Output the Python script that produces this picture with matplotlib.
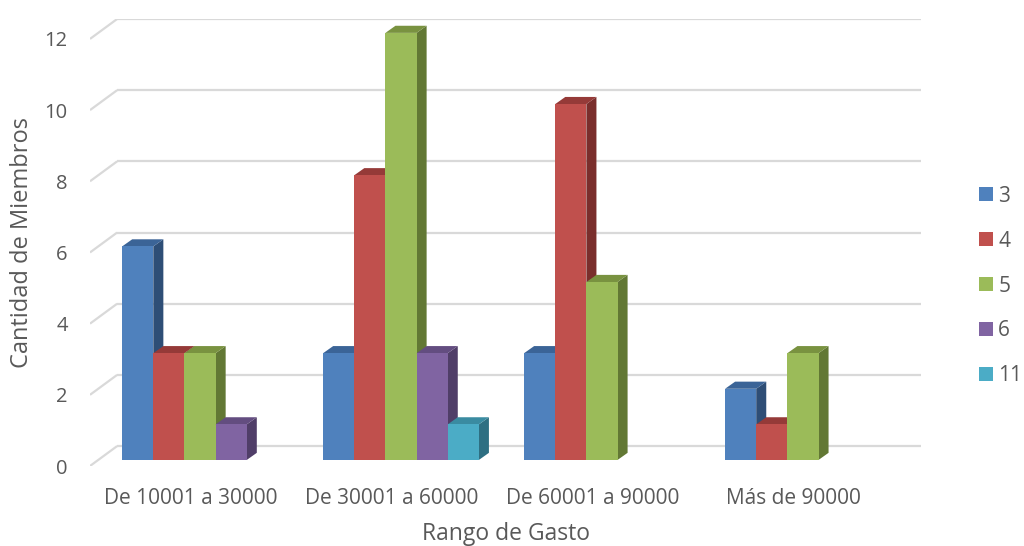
import matplotlib
matplotlib.use("Agg")
import matplotlib.pyplot as plt
from matplotlib.patches import Polygon, Patch

plt.rcParams['font.family'] = ['Open Sans', 'DejaVu Sans']

# datos: cantidad de miembros por rango de gasto
rangos = ["De 10001 a 30000", "De 30001 a 60000", "De 60001 a 90000", "Más de 90000"]
series = ["3", "4", "5", "6", "11"]
s3 = [6, 3, 3, 2]
s4 = [3, 8, 10, 1]
s5 = [3, 12, 5, 3]
s6 = [1, 3, 0, 0]
s11 = [0, 1, 0, 0]
valores = [s3, s4, s5, s6, s11]

frentes = ["#4F81BD", "#C0504D", "#9BBB59", "#8064A2", "#4BACC6"]
techos = ["#3B6497", "#953A38", "#799240", "#634D80", "#3A8BA1"]
lados = ["#2E4E76", "#7A2E2C", "#627834", "#503E68", "#2E6F82"]
gris = "#595959"
rejilla = "#D9D9D9"

# profundidad de la pared del fondo y de las barras (unidades de datos)
fondo_dx, fondo_dy = 0.135, 0.56
barra_dx0, barra_dy0 = 0.04, 0.17
barra_dx, barra_dy = 0.05, 0.2
ancho = 0.155
inicio = 0.12

fig = plt.figure(figsize=(10.24, 5.46), dpi=100)
W, H = 1024, 546
ax = fig.add_axes([90 / W, (H - 466) / H, 831 / W, 447 / H])
ax.set_xlim(0, 4 + fondo_dx)
ax.set_ylim(0, 12 + fondo_dy)
for s in ax.spines.values():
    s.set_visible(False)

# rejilla en perspectiva
for v in range(0, 13, 2):
    ax.plot([0, fondo_dx], [v, v + fondo_dy], color=rejilla, lw=1.6, zorder=1,
            solid_capstyle='butt')
    ax.plot([fondo_dx, 4 + fondo_dx], [v + fondo_dy, v + fondo_dy], color=rejilla,
            lw=1.6, zorder=1, solid_capstyle='butt')

# barras 3D: cara frontal, techo y lateral
z = 2
for i in range(len(rangos)):
    for k, vals in enumerate(valores):
        v = vals[i]
        if v == 0:
            continue
        x0 = i + inicio + k * ancho + barra_dx0
        y0 = barra_dy0
        y1 = y0 + v
        x1 = x0 + ancho
        lado = Polygon([(x1, y0), (x1 + barra_dx, y0 + barra_dy),
                        (x1 + barra_dx, y1 + barra_dy), (x1, y1)],
                       closed=True, fc=lados[k], ec='none', zorder=z)
        techo = Polygon([(x0, y1), (x1, y1), (x1 + barra_dx, y1 + barra_dy),
                         (x0 + barra_dx, y1 + barra_dy)],
                        closed=True, fc=techos[k], ec='none', zorder=z)
        frente = Polygon([(x0, y0), (x1, y0), (x1, y1), (x0, y1)],
                         closed=True, fc=frentes[k], ec='none', zorder=z + 0.5)
        ax.add_patch(lado)
        ax.add_patch(techo)
        ax.add_patch(frente)
        z += 1

ax.set_yticks(range(0, 13, 2))
ax.set_yticklabels([str(v) for v in range(0, 13, 2)])
ax.set_xticks([i + 0.5 for i in range(len(rangos))])
ax.set_xticklabels(rangos)
ax.tick_params(axis='y', length=0, pad=16, labelsize=14.5, labelcolor=gris)
ax.tick_params(axis='x', length=0, pad=16, labelsize=15, labelcolor=gris)

ax.set_ylabel("Cantidad de Miembros", fontsize=17, color=gris, labelpad=8)
ax.set_xlabel("Rango de Gasto", fontsize=16.5, color=gris, labelpad=9)

manejadores = [Patch(facecolor=c, edgecolor='none') for c in frentes]
fig.legend(manejadores, series, loc='center left', bbox_to_anchor=(979 / W, 1 - 286 / H),
           frameon=False, fontsize=15, labelcolor=gris, handlelength=0.67,
           handleheight=0.67, handletextpad=0.25, labelspacing=1.15,
           borderpad=0, borderaxespad=0)

fig.savefig("out.png", dpi=100)
